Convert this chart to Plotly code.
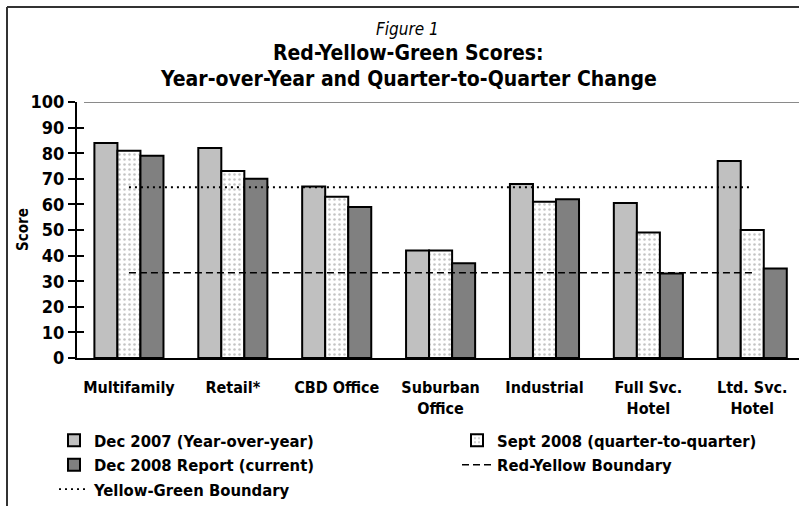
import plotly.graph_objects as go

categories = ["Multifamily", "Retail*", "CBD Office", "Suburban<br>Office",
              "Industrial", "Full Svc.<br>Hotel", "Ltd. Svc.<br>Hotel"]
dec_2007 = [84, 82, 67, 42, 68, 60.5, 77]
sept_2008 = [81, 73, 63, 42, 61, 49, 50]
dec_2008 = [79, 70, 59, 37, 62, 33, 35]
red_yellow = [33.3, 33.3, 33.3, 33.3, 33.3, 33.3, 33.3]
yellow_green = [66.7, 66.7, 66.7, 66.7, 66.7, 66.7, 66.7]
y_ticks = [0, 10, 20, 30, 40, 50, 60, 70, 80, 90, 100]

FONT = "Liberation Sans Narrow, DejaVu Sans Condensed, Arial Narrow, Liberation Sans, sans-serif"
W, H = 799, 506
L, R, T, B = 77, 0, 102, 148
pw = W - L - R
ph = H - T - B

def px_x(p):
    return (p - L) / pw

def px_y(p):
    return (H - B - p) / ph

fig = go.Figure()
fig.add_trace(go.Bar(
    x=categories, y=dec_2007, name="Dec 2007 (Year-over-year)",
    marker=dict(color="#c0c0c0", line=dict(color="black", width=2)),
    legend="legend"))
fig.add_trace(go.Bar(
    x=categories, y=sept_2008, name="Sept 2008 (quarter-to-quarter)",
    marker=dict(color="white", line=dict(color="black", width=2),
                pattern=dict(shape=".", fgcolor="#8a8a8a", bgcolor="white",
                             size=5, solidity=0.2)),
    legend="legend2"))
fig.add_trace(go.Bar(
    x=categories, y=dec_2008, name="Dec 2008 Report (current)",
    marker=dict(color="#808080", line=dict(color="black", width=2)),
    legend="legend"))
fig.add_trace(go.Scatter(
    x=categories, y=red_yellow, name="Red-Yellow Boundary", mode="lines",
    line=dict(color="black", width=1.6, dash="7px,4px"),
    legend="legend2", yaxis="y2"))
fig.add_trace(go.Scatter(
    x=categories, y=yellow_green, name="Yellow-Green Boundary", mode="lines",
    line=dict(color="black", width=1.8, dash="2px,4px"),
    legend="legend", yaxis="y2"))

# title
fig.add_annotation(text="<i>Figure 1</i>", x=px_x(407), y=px_y(28.5),
                   xref="paper", yref="paper", showarrow=False,
                   xanchor="center", yanchor="middle",
                   font=dict(family=FONT, size=17, color="black"))
fig.add_annotation(text="Red-Yellow-Green Scores:", x=px_x(408), y=px_y(52.5),
                   xref="paper", yref="paper", showarrow=False,
                   xanchor="center", yanchor="middle",
                   font=dict(family=FONT, size=21, color="black", weight="bold"))
fig.add_annotation(text="Year-over-Year and Quarter-to-Quarter Change",
                   x=px_x(408), y=px_y(79),
                   xref="paper", yref="paper", showarrow=False,
                   xanchor="center", yanchor="middle",
                   font=dict(family=FONT, size=21, color="black", weight="bold"))
# y-axis title
fig.add_annotation(text="Score", x=px_x(23), y=px_y(230), textangle=-90,
                   xref="paper", yref="paper", showarrow=False,
                   xanchor="center", yanchor="middle",
                   font=dict(family=FONT, size=15, color="black", weight="bold"))

# frame and top rule
fig.add_shape(type="line", xref="paper", yref="paper",
              x0=px_x(7), x1=px_x(820), y0=px_y(7), y1=px_y(7),
              line=dict(color="#333333", width=2))
fig.add_shape(type="line", xref="paper", yref="paper",
              x0=px_x(7), x1=px_x(7), y0=px_y(7), y1=px_y(520),
              line=dict(color="#333333", width=2))
fig.add_shape(type="line", xref="paper", yref="y",
              x0=px_x(84), x1=1.05, y0=100, y1=100,
              line=dict(color="#8a8a8a", width=2))

legend_font = dict(family=FONT, size=16.5, color="black", weight="bold")
fig.update_layout(
    width=W, height=H,
    margin=dict(l=L, r=R, t=T, b=B, autoexpand=False),
    paper_bgcolor="white", plot_bgcolor="white",
    barmode="group", bargap=0.335, bargroupgap=0,
    showlegend=True,
    legend=dict(xref="container", yref="container",
                x=54 / W, y=1 - 423 / H, xanchor="left", yanchor="top",
                orientation="v", font=legend_font, bgcolor="rgba(0,0,0,0)",
                traceorder="normal", itemwidth=30, tracegroupgap=0),
    legend2=dict(xref="container", yref="container",
                 x=457 / W, y=1 - 423 / H, xanchor="left", yanchor="top",
                 orientation="v", font=legend_font, bgcolor="rgba(0,0,0,0)",
                 traceorder="normal", itemwidth=30),
    xaxis=dict(type="category", range=[-0.5, 6.45], showgrid=False,
               showline=True, linecolor="black", linewidth=2,
               ticks="", tickfont=dict(family=FONT, size=16, color="black", weight="bold"),
               tickvals=categories, ticktext=categories,
               ticklabelstandoff=14, automargin=False, fixedrange=True),
    yaxis=dict(range=[0, 100], tickvals=y_ticks, ticktext=[str(v) for v in y_ticks],
               showgrid=False, showline=True, linecolor="black", linewidth=2,
               ticks="outside", ticklen=7, tickwidth=2, tickcolor="black",
               tickfont=dict(family=FONT, size=18, color="black", weight="bold"),
               zeroline=False, automargin=False, fixedrange=True),
    yaxis2=dict(range=[0, 100], tickvals=y_ticks, overlaying="y", anchor="x",
                side="left", matches="y", showticklabels=False, showgrid=False,
                ticks="inside", ticklen=7, tickwidth=2, tickcolor="black",
                showline=False, zeroline=False, automargin=False),
)

fig.write_html("out.html", post_script="document.body.style.margin='0';",
               config={"displayModeBar": False})
